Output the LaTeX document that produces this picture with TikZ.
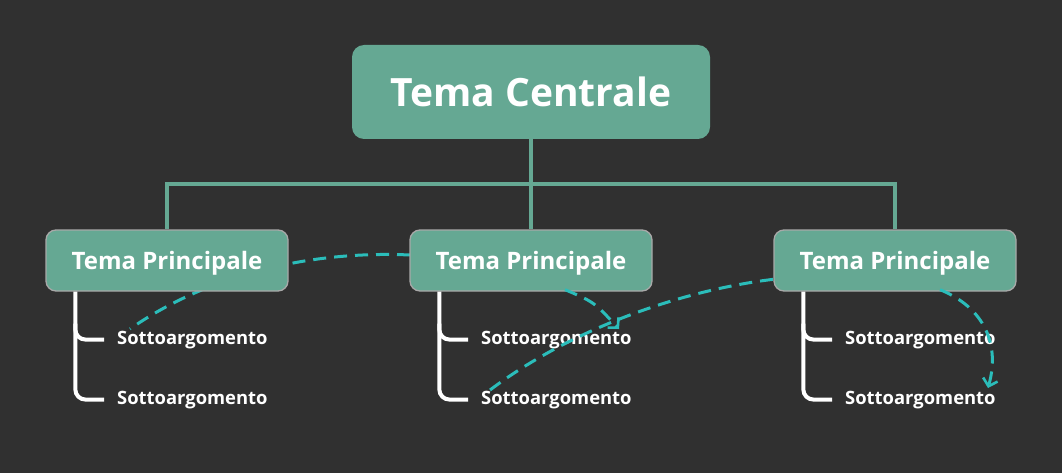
\documentclass[tikz,border=0pt]{standalone}
\usepackage{fontspec}
\setmainfont{Open Sans}
\usetikzlibrary{arrows.meta,calc}
\definecolor{bg}{HTML}{303030}
\definecolor{teal}{HTML}{65A893}
\definecolor{edgegray}{HTML}{A8A8A8}
\definecolor{cyanline}{HTML}{2BBDBA}
\tikzset{
  central/.style={fill=teal, rounded corners=12pt, minimum width=358pt, minimum height=94pt,
    text=white, font=\fontsize{39}{45}\selectfont\bfseries, inner sep=0pt},
  topic/.style={fill=teal, draw=edgegray, line width=1.3pt, rounded corners=10pt,
    minimum width=242pt, minimum height=61pt, text=white, text depth=0pt,
    font=\fontsize{24}{28}\selectfont\bfseries, inner sep=0pt},
  subtext/.style={text=white, font=\fontsize{18.4}{21}\selectfont\bfseries, inner sep=0pt, anchor=base west},
  treeline/.style={draw=teal, line width=4pt},
  bracket/.style={draw=white, line width=4pt, rounded corners=10pt},
  relline/.style={draw=cyanline, line width=3pt, dash pattern=on 13pt off 8pt},
  reltip/.style={-{Straight Barb[length=7pt,width=15pt,line width=2.6pt]}}
}
\begin{document}
\begin{tikzpicture}[x=1pt,y=-1pt]
\fill[bg] (0,0) rectangle (1062,473);
\useasboundingbox (0,0) rectangle (1062,473);

\path (410,255) coordinate (r1s);

\node[central] (c) at (531,92) {Tema Centrale};
\path (531,184) coordinate (hub);

% sub topic texts
\node[subtext] (s11) at (117,344) {Sottoargomento};
\node[subtext] (s12) at (117,404) {Sottoargomento};
\node[subtext] (s21) at (481,344) {Sottoargomento};
\node[subtext] (s22) at (481,404) {Sottoargomento};
\node[subtext] (s31) at (845,344) {Sottoargomento};
\node[subtext] (s32) at (845,404) {Sottoargomento};

% dashed relations drawn under the topic boxes
\coordinate (e1) at ([xshift=13pt,yshift=15pt]s11.base west);
\draw[relline] (r1s) .. controls (300,250) and (200,280) .. (e1);
\coordinate (st3) at ([xshift=9pt,yshift=14pt]s22.base west);
\coordinate (en3) at (776,279);
\draw[relline] (st3) .. controls (570,330) and (680,290) .. (en3);

\node[topic] (t1) at (167,260.5) {Tema Principale};
\node[topic] (t2) at (531,260.5) {Tema Principale};
\node[topic] (t3) at (895,260.5) {Tema Principale};

% tree connectors
\draw[treeline] (c.south) -- (hub);
\draw[treeline] (t1.north) |- (hub) -| (t3.north);
\draw[treeline] (hub) -- (t2.north);

% brackets
\foreach \t/\a/\b in {t1/s11/s12, t2/s21/s22, t3/s31/s32}{
  \coordinate (bb) at ([xshift=30pt]\t.south west);
  \draw[bracket] (bb) |- ([xshift=-13pt]\b.west);
  \draw[bracket] ([yshift=16pt]bb |- \a.west) |- ([xshift=-13pt]\a.west);
}

% dashed relations with arrow tips
\coordinate (st2) at ([xshift=34pt,yshift=2pt]t2.south);
\coordinate (tip2) at ([xshift=138pt,yshift=15pt]s21.base west);
\draw[relline,reltip] (st2) .. controls (594,302) .. (tip2);
\coordinate (st4) at ([xshift=45pt,yshift=2pt]t3.south);
\coordinate (tip4) at ([xshift=143pt,yshift=16pt]s32.base west);
\draw[relline,reltip] (st4) .. controls (985,308) and (1000,345) .. (tip4);
\end{tikzpicture}
\end{document}
